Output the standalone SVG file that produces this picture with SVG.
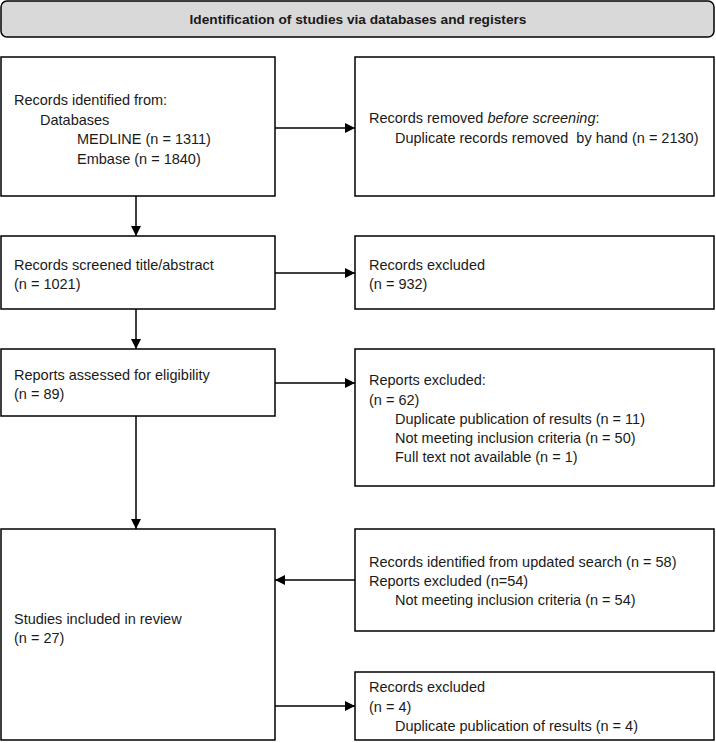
<svg xmlns="http://www.w3.org/2000/svg" width="716" height="743" viewBox="0 0 716 743">
<style>
.box{fill:#fff;stroke:#000;stroke-width:1.5}
.hdr{fill:#d9d9d9;stroke:#000;stroke-width:1.5}
text{font-family:"Liberation Sans",Arial,sans-serif;font-size:14.5px;fill:#1a1a1a}
.title{font-weight:bold;font-size:13.7px;text-anchor:middle}
.conn{stroke:#000;stroke-width:1.5;fill:none;marker-end:url(#ah)}
</style>
<defs>
<marker id="ah" viewBox="0 0 10 10" refX="10" refY="5" markerWidth="10" markerHeight="10" markerUnits="userSpaceOnUse" orient="auto">
<path d="M0,0 L10,5 L0,10 z" fill="#000"/>
</marker>
</defs>
<g id="header">
<rect class="hdr" x="1" y="1" width="713" height="36" rx="6"/>
<text class="title" x="358" y="24">Identification of studies via databases and registers</text>
</g>
<g id="identified">
<rect class="box" x="1" y="57" width="274" height="139"/>
<text x="14" y="105">Records identified from:</text>
<text x="40" y="125">Databases</text>
<text x="77" y="144">MEDLINE (n = 1311)</text>
<text x="77" y="164">Embase (n = 1840)</text>
</g>
<g id="removed">
<rect class="box" x="355" y="57" width="359" height="139"/>
<text x="369" y="123">Records removed <tspan font-style="italic">before screening</tspan>:</text>
<text x="395" y="143">Duplicate records removed&#160; by hand (n = 2130)</text>
</g>
<g id="screened">
<rect class="box" x="1" y="236" width="274" height="73"/>
<text x="14" y="270">Records screened title/abstract</text>
<text x="14" y="289">(n = 1021)</text>
</g>
<g id="excluded1">
<rect class="box" x="355" y="236" width="359" height="73"/>
<text x="369" y="270">Records excluded</text>
<text x="369" y="289">(n = 932)</text>
</g>
<g id="assessed">
<rect class="box" x="1" y="349" width="274" height="67"/>
<text x="14" y="380">Reports assessed for eligibility</text>
<text x="14" y="399">(n = 89)</text>
</g>
<g id="excluded2">
<rect class="box" x="355" y="349" width="359" height="137"/>
<text x="369" y="385">Reports excluded:</text>
<text x="369" y="405">(n = 62)</text>
<text x="395" y="424">Duplicate publication of results (n = 11)</text>
<text x="395" y="443">Not meeting inclusion criteria (n = 50)</text>
<text x="395" y="462">Full text not available (n = 1)</text>
</g>
<g id="included">
<rect class="box" x="1" y="529" width="274" height="211"/>
<text x="14" y="624">Studies included in review</text>
<text x="14" y="643">(n = 27)</text>
</g>
<g id="updated">
<rect class="box" x="355" y="529" width="359" height="102"/>
<text x="369" y="567">Records identified from updated search (n = 58)</text>
<text x="369" y="586">Reports excluded (n=54)</text>
<text x="395" y="605">Not meeting inclusion criteria (n = 54)</text>
</g>
<g id="excluded3">
<rect class="box" x="355" y="672" width="359" height="68"/>
<text x="369" y="692">Records excluded</text>
<text x="369" y="712">(n = 4)</text>
<text x="395" y="731">Duplicate publication of results (n = 4)</text>
</g>
<g id="connectors">
<path class="conn" d="M275,128 H355"/>
<path class="conn" d="M136,196 V236"/>
<path class="conn" d="M275,273 H355"/>
<path class="conn" d="M136,309 V349"/>
<path class="conn" d="M275,383 H355"/>
<path class="conn" d="M136,416 V529"/>
<path class="conn" d="M355,580 H275"/>
<path class="conn" d="M275,706 H355"/>
</g>
</svg>
